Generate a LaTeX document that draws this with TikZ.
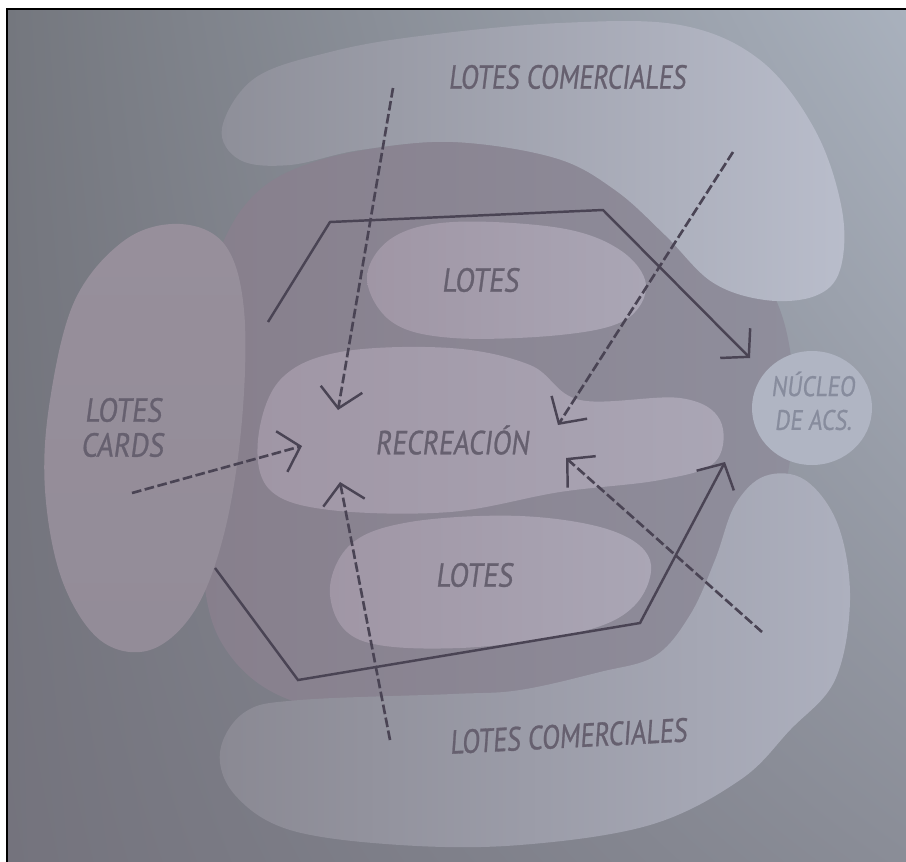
\documentclass[tikz,border=0pt]{standalone}
\usepackage{fontspec}
\setmainfont{PT Sans}
\newfontfamily\lblfont[FakeSlant=0.16, FakeBold=0.9]{PT Sans}
\usetikzlibrary{arrows.meta,shadings}
\definecolor{bgUL}{HTML}{74777E}
\definecolor{bgUR}{HTML}{A9B1BD}
\definecolor{bgLL}{HTML}{74737D}
\definecolor{bgLR}{HTML}{8A8D97}
\definecolor{midL}{HTML}{877F8C}
\definecolor{midR}{HTML}{8F8E9C}
\definecolor{topL}{HTML}{8E8F99}
\definecolor{topR}{HTML}{B9BDCB}
\definecolor{leftT}{HTML}{978F9B}
\definecolor{leftB}{HTML}{938C98}
\definecolor{botL}{HTML}{8A8993}
\definecolor{botR}{HTML}{ADB0BE}
\definecolor{circc}{HTML}{B0B5C3}
\definecolor{innL}{HTML}{A096A5}
\definecolor{innR}{HTML}{AAA6B5}
\definecolor{linec}{HTML}{4A4454}
\definecolor{labc}{HTML}{66606F}
\definecolor{labl}{HTML}{878C9D}
\begin{document}
\begin{tikzpicture}[x=0.02cm,y=-0.02cm,
  hexline/.style={draw=linec, line width=1.4pt, line join=miter},
  flow/.style={draw=linec, line width=1.5pt, dash pattern=on 5.5pt off 2pt},
  vtip/.style={-{Straight Barb[length=11pt,width=24pt,line width=1.4pt]}},
  lbl/.style={text=labc, inner sep=0pt, font=\fontsize{19}{20}\selectfont\lblfont},
  lblsmall/.style={text=labl, inner sep=0pt, font=\fontsize{16}{18}\selectfont\lblfont}]
\useasboundingbox (0,0) rectangle (906,862);
\fill[white] (0,0) rectangle (906,862);
\shade[upper left=bgUL, upper right=bgUR, lower left=bgLL, lower right=bgLR] (7,9) rectangle (906,862);
\draw[black, line width=1.6pt] (7,862) -- (7,9) -- (906,9);
% middle zone
\shade[left color=midL, right color=midR] plot[smooth cycle, tension=0.6] coordinates {(198,420)(205,300)(245,205)(320,160)(453,140)(580,145)(690,190)(760,270)(790,350)(790,460)(760,560)(700,650)(580,700)(420,715)(290,700)(220,640)(200,540)};
% outer blobs
\shade[left color=topL, right color=topR] plot[smooth cycle, tension=0.6] coordinates {(222,128)(255,78)(330,52)(420,36)(560,23)(680,25)(760,60)(815,130)(842,210)(840,270)(815,296)(765,300)(712,282)(665,235)(615,190)(555,158)(453,142)(360,150)(290,165)(240,160)};
\shade[top color=leftT, bottom color=leftB] plot[smooth cycle, tension=0.6] coordinates {(50,400)(75,300)(125,240)(180,224)(225,245)(244,310)(242,420)(225,530)(195,610)(150,650)(100,640)(62,580)(45,490)};
\shade[left color=botL, right color=botR] plot[smooth cycle, tension=0.6] coordinates {(220,752)(245,712)(300,700)(453,694)(520,690)(600,672)(655,656)(690,615)(715,560)(735,505)(765,476)(805,480)(838,525)(850,600)(835,680)(790,730)(740,780)(650,825)(520,845)(400,845)(290,830)(235,795)};
\fill[circc] (812,408) ellipse [x radius=60, y radius=57];
% inner blobs
\shade[left color=innL, right color=innR] plot[smooth cycle, tension=0.6] coordinates {(367,278)(392,238)(453,222)(560,228)(620,250)(646,285)(625,320)(560,335)(453,338)(392,322)};
\shade[left color=innL, right color=innR] plot[smooth cycle, tension=0.6] coordinates {(258,440)(280,380)(340,352)(450,348)(530,365)(580,400)(680,398)(720,420)(715,462)(660,480)(560,492)(450,512)(330,510)(270,490)};
\shade[left color=innL, right color=innR] plot[smooth cycle, tension=0.6] coordinates {(330,595)(350,545)(410,522)(520,516)(610,530)(650,560)(635,605)(580,632)(460,648)(360,640)};
% labels
\node[lbl] (lcTop) at (567,77) {\scalebox{0.78}[1]{LOTES COMERCIALES}};
\node[lbl] (lTop) at (480,280) {\scalebox{0.85}[1]{LOTES}};
\node[lbl] (lCards1) at (123,410) {\scalebox{0.85}[1]{LOTES}};
\node[lbl] (lCards2) at (122,445) {\scalebox{0.85}[1]{CARDS}};
\node[lbl] (recr) at (452,440) {\scalebox{0.82}[1]{RECREACIÓN}};
\node[lbl] (lBot) at (474,575) {\scalebox{0.85}[1]{LOTES}};
\node[lbl, rotate=3] (lcBot) at (568,736) {\scalebox{0.78}[1]{LOTES COMERCIALES}};
\node[lblsmall] (nuc1) at (813,384) {\scalebox{0.82}[1]{NÚCLEO}};
\node[lblsmall] (nuc2) at (813,420) {\scalebox{0.82}[1]{DE ACS.}};
% coordinates
\coordinate (h1a) at (268,322); \coordinate (h1b) at (330,222);
\coordinate (h1c) at (603,210); \coordinate (h1d) at (750,358);
\coordinate (h2a) at (215,568); \coordinate (h2b) at (298,680);
\coordinate (h2c) at (640,623); \coordinate (h2d) at (725,462);
\coordinate (s1) at (393,88);  \coordinate (t1) at (338,410);
\coordinate (s2) at (733,152); \coordinate (t2) at (558,425);
\coordinate (s3) at (132,493); \coordinate (t3) at (302,446);
\coordinate (s4) at (390,740); \coordinate (t4) at (340,482);
\coordinate (s5) at (762,632); \coordinate (t5) at (566,458);
% routes
\draw[hexline, vtip] (h1a) -- (h1b) -- (h1c) -- (h1d);
\draw[hexline, vtip] (h2a) -- (h2b) -- (h2c) -- (h2d);
\draw[flow, vtip] (s1) -- (t1);
\draw[flow, vtip] (s2) -- (t2);
\draw[flow, vtip] (s3) -- (t3);
\draw[flow, vtip] (s4) -- (t4);
\draw[flow, vtip] (s5) -- (t5);
\end{tikzpicture}
\end{document}
